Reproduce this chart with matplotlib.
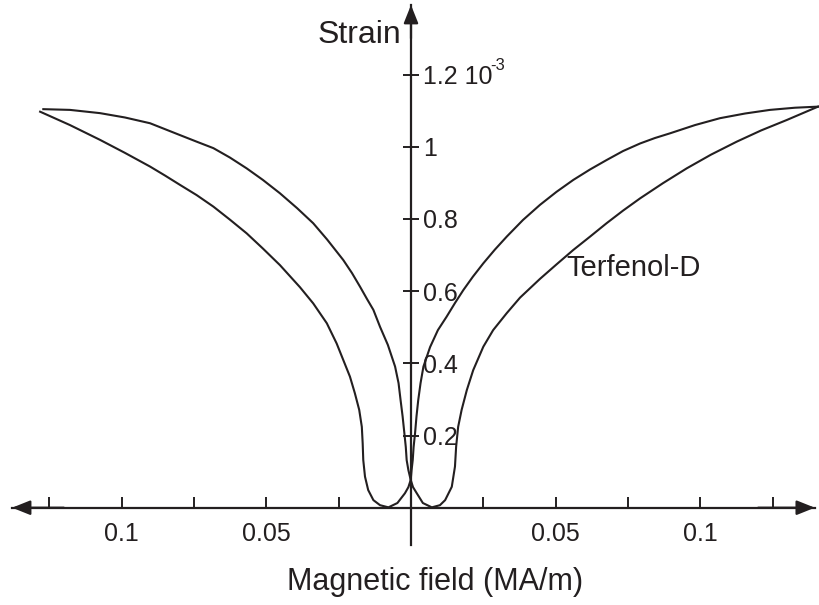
import matplotlib.pyplot as plt

plt.rcParams['font.family'] = ['Liberation Sans', 'DejaVu Sans']

# field decreasing: right upper branch -> left bottom loop -> left lower branch
branch_a_x = [0.1407, 0.1327, 0.1241, 0.1155, 0.1068, 0.0982, 0.0895, 0.0843, 0.0792, 0.0733,
              0.0676, 0.0619, 0.0561, 0.0503, 0.0446, 0.0387, 0.0331, 0.0290, 0.0250, 0.0214,
              0.0181, 0.0152, 0.0123, 0.0093, 0.0066, 0.0043, 0.0033, 0.0025, 0.0019, 0.0014,
              0.0009, 0.0006, 0.0002, -0.0001, -0.0009, -0.0021, -0.0047, -0.0078, -0.0107, -0.0130,
              -0.0148, -0.0159, -0.0165, -0.0167, -0.0170, -0.0179, -0.0194, -0.0211, -0.0234, -0.0257,
              -0.0291, -0.0338, -0.0384, -0.0453, -0.0512, -0.0568, -0.0626, -0.0683, -0.0741, -0.0798,
              -0.0850, -0.0902, -0.0989, -0.1075, -0.1179, -0.1282]
branch_a_y = [1.111, 1.108, 1.102, 1.092, 1.079, 1.060, 1.037, 1.024, 1.009, 0.988,
              0.963, 0.937, 0.908, 0.875, 0.839, 0.797, 0.751, 0.715, 0.677, 0.640,
              0.603, 0.567, 0.529, 0.492, 0.445, 0.391, 0.345, 0.298, 0.253, 0.206,
              0.168, 0.132, 0.104, 0.077, 0.057, 0.040, 0.013, 0.001, 0.007, 0.021,
              0.049, 0.086, 0.132, 0.178, 0.224, 0.271, 0.317, 0.363, 0.409, 0.455,
              0.511, 0.566, 0.611, 0.672, 0.718, 0.760, 0.798, 0.834, 0.866, 0.894,
              0.920, 0.945, 0.983, 1.019, 1.060, 1.097]

# field increasing: left upper branch -> right bottom loop -> right lower branch
branch_b_x = [-0.1271, -0.1179, -0.1075, -0.0989, -0.0902, -0.0798, -0.0741, -0.0683, -0.0626, -0.0568,
              -0.0512, -0.0453, -0.0394, -0.0338, -0.0290, -0.0234, -0.0204, -0.0176, -0.0152, -0.0130,
              -0.0107, -0.0080, -0.0055, -0.0043, -0.0036, -0.0029, -0.0023, -0.0018, -0.0015, -0.0009,
              -0.0001, 0.0007, 0.0020, 0.0041, 0.0072, 0.0100, 0.0118, 0.0141, 0.0152, 0.0156,
              0.0163, 0.0175, 0.0193, 0.0215, 0.0250, 0.0284, 0.0331, 0.0377, 0.0446, 0.0503,
              0.0561, 0.0619, 0.0676, 0.0733, 0.0792, 0.0871, 0.0953, 0.1037, 0.1126, 0.1210,
              0.1299, 0.1407]
branch_b_y = [1.104, 1.102, 1.093, 1.081, 1.065, 1.032, 1.014, 0.996, 0.970, 0.940,
              0.908, 0.871, 0.830, 0.788, 0.743, 0.686, 0.650, 0.612, 0.578, 0.548,
              0.501, 0.451, 0.391, 0.345, 0.298, 0.253, 0.207, 0.168, 0.132, 0.104,
              0.077, 0.057, 0.040, 0.013, 0.001, 0.007, 0.021, 0.058, 0.114, 0.169,
              0.224, 0.271, 0.326, 0.381, 0.446, 0.492, 0.539, 0.582, 0.634, 0.674,
              0.714, 0.751, 0.788, 0.823, 0.857, 0.899, 0.940, 0.978, 1.014, 1.045,
              1.074, 1.111]

x_ticks = [-0.125, -0.1, -0.075, -0.05, -0.025, 0.025, 0.05, 0.075, 0.1, 0.125]
x_tick_labels = ['', '0.1', '', '0.05', '', '', '0.05', '', '0.1', '']
y_ticks = [0.2, 0.4, 0.6, 0.8, 1.0, 1.2]
y_tick_labels = ['0.2', '0.4', '0.6', '0.8', '1', '1.2 10']

ink = '#231f20'

fig = plt.figure(figsize=(8.2, 6.05), dpi=100)
ax = fig.add_axes([0, 0, 1, 1])
ax.set_xlim(-0.14207, 0.14138)
ax.set_ylim(-0.2695, 1.4064)

ax.plot(branch_a_x, branch_a_y, color=ink, lw=1.5, solid_joinstyle='round')
ax.plot(branch_b_x, branch_b_y, color=ink, lw=1.5, solid_joinstyle='round')

# axes through the origin
for s in ['top', 'left']:
    ax.spines[s].set_visible(False)
ax.spines['bottom'].set_position(('data', 0))
ax.spines['right'].set_position(('data', 0))
ax.spines['bottom'].set_bounds(-0.1379, 0.1396)
ax.spines['right'].set_bounds(-0.103, 1.3925)
for s in ['bottom', 'right']:
    ax.spines[s].set_linewidth(1.6)
    ax.spines[s].set_color(ink)

ax.yaxis.tick_right()
ax.set_xticks(x_ticks)
ax.set_xticklabels(x_tick_labels)
ax.set_yticks(y_ticks)
ax.set_yticklabels(y_tick_labels)
ax.tick_params(axis='x', direction='in', length=8, width=1.4, color=ink,
               labelsize=18, pad=10, labelcolor=ink)
ax.tick_params(axis='y', direction='inout', length=11, width=1.4, color=ink,
               labelsize=18, pad=3, labelcolor=ink)

# arrow heads
arrow = dict(arrowstyle='-|>,head_length=0.55,head_width=0.22', color=ink, lw=1.6,
             mutation_scale=20, shrinkA=0, shrinkB=0)
ax.annotate('', xy=(0.1396, 0), xytext=(0.12, 0), arrowprops=arrow)
ax.annotate('', xy=(-0.1379, 0), xytext=(-0.12, 0), arrowprops=arrow)
ax.annotate('', xy=(0, 1.3925), xytext=(0, 1.3), arrowprops=arrow)

ax.text(0.0275, 1.226, '-3', fontsize=12, color=ink, ha='left', va='center')
ax.text(-0.018, 1.309, 'Strain', fontsize=23, color=ink, ha='center', va='center')
ax.text(0.0769, 0.664, 'Terfenol-D', fontsize=21, color=ink, ha='center', va='center')
ax.text(0.0083, -0.206, 'Magnetic field (MA/m)', fontsize=22, color=ink, ha='center', va='center')

fig.savefig('out.png', dpi=100)
